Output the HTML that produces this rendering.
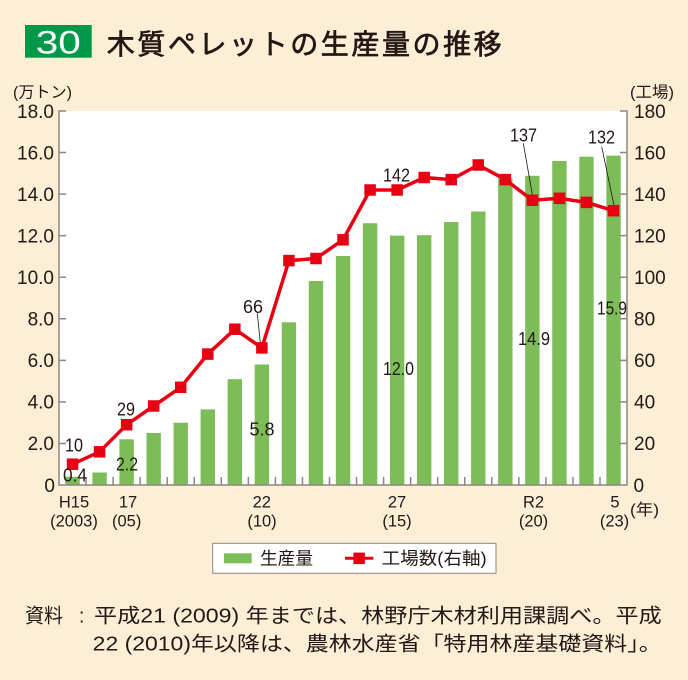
<!DOCTYPE html>
<html><head><meta charset="utf-8"><style>
html,body{margin:0;padding:0;background:#fdeed6;}
svg{display:block;}
.t{font-family:"Liberation Sans","Noto Sans CJK JP",sans-serif;fill:#231815;}
.j{font-family:"Liberation Sans","Noto Sans CJK JP",sans-serif;fill:#231815;}
</style></head><body>
<svg width="688" height="680" viewBox="0 0 688 680" xmlns="http://www.w3.org/2000/svg">
<rect x="0" y="0" width="688" height="680" fill="#fdeed6"/>
<!-- title -->
<rect x="25" y="25" width="66.7" height="32.7" fill="#00994a"/>
<text x="58.3" y="53.3" font-size="32" text-anchor="middle" fill="#fff" font-family="Liberation Sans, sans-serif" textLength="45" lengthAdjust="spacingAndGlyphs">30</text>
<text class="j" x="106.7" y="54" font-size="28" stroke="#231815" stroke-width="0.7" textLength="395" lengthAdjust="spacing">木質ペレットの生産量の推移</text>

<!-- unit labels -->
<text class="j" x="13" y="97.5" font-size="16" textLength="59" lengthAdjust="spacingAndGlyphs">(万トン)</text>
<text class="j" x="630" y="97.5" font-size="16" textLength="44" lengthAdjust="spacingAndGlyphs">(工場)</text>

<!-- plot area -->
<rect x="59" y="111" width="568" height="374" fill="#ffffff"/>

<!-- bars -->
<g fill="#7cbd58">
<rect x="65.33" y="476.7" width="14.4" height="8.3"/>
<rect x="92.38" y="472.5" width="14.4" height="12.5"/>
<rect x="119.43" y="439.3" width="14.4" height="45.7"/>
<rect x="146.48" y="433.0" width="14.4" height="52.0"/>
<rect x="173.53" y="422.7" width="14.4" height="62.3"/>
<rect x="200.58" y="409.4" width="14.4" height="75.6"/>
<rect x="227.63" y="379.2" width="14.4" height="105.8"/>
<rect x="254.68" y="364.5" width="14.4" height="120.5"/>
<rect x="281.73" y="322.3" width="14.4" height="162.7"/>
<rect x="308.78" y="281.0" width="14.4" height="204.0"/>
<rect x="335.83" y="256.0" width="14.4" height="229.0"/>
<rect x="362.88" y="223.2" width="14.4" height="261.8"/>
<rect x="389.93" y="235.6" width="14.4" height="249.4"/>
<rect x="416.98" y="235.2" width="14.4" height="249.8"/>
<rect x="444.03" y="222.0" width="14.4" height="263.0"/>
<rect x="471.08" y="211.5" width="14.4" height="273.5"/>
<rect x="498.13" y="178.3" width="14.4" height="306.7"/>
<rect x="525.18" y="175.8" width="14.4" height="309.2"/>
<rect x="552.23" y="161.0" width="14.4" height="324.0"/>
<rect x="579.28" y="156.7" width="14.4" height="328.3"/>
<rect x="606.33" y="155.6" width="14.4" height="329.4"/>
</g>

<!-- axes -->
<g stroke="#8c8680" stroke-width="1.5" fill="none">
<path d="M66,111 H59 V485 H627 V111 H620"/>
<path d="M59,443.44 h7 M59,401.89 h7 M59,360.33 h7 M59,318.78 h7 M59,277.22 h7 M59,235.67 h7 M59,194.11 h7 M59,152.56 h7"/>
<path d="M627,443.44 h-7 M627,401.89 h-7 M627,360.33 h-7 M627,318.78 h-7 M627,277.22 h-7 M627,235.67 h-7 M627,194.11 h-7 M627,152.56 h-7"/>
<path d="M86.05,485 v-8 M113.1,485 v-8 M140.15,485 v-8 M167.2,485 v-8 M194.25,485 v-8 M221.3,485 v-8 M248.35,485 v-8 M275.4,485 v-8 M302.45,485 v-8 M329.5,485 v-8 M356.55,485 v-8 M383.6,485 v-8 M410.65,485 v-8 M437.7,485 v-8 M464.75,485 v-8 M491.8,485 v-8 M518.85,485 v-8 M545.9,485 v-8 M572.95,485 v-8 M600,485 v-8"/>
</g>

<!-- left tick labels -->
<g class="t" font-size="19" text-anchor="end">
<text x="55" y="491.8">0</text>
<text x="54" y="450.2">2.0</text>
<text x="54" y="408.7">4.0</text>
<text x="54" y="367.1">6.0</text>
<text x="54" y="325.6">8.0</text>
<text x="54" y="284.0">10.0</text>
<text x="54" y="242.5">12.0</text>
<text x="54" y="200.9">14.0</text>
<text x="54" y="159.4">16.0</text>
<text x="54" y="117.8">18.0</text>
</g>
<!-- right tick labels -->
<g class="t" font-size="19">
<text x="633.5" y="491.8">0</text>
<text x="634" y="450.2">20</text>
<text x="634" y="408.7">40</text>
<text x="634" y="367.1">60</text>
<text x="634" y="325.6">80</text>
<text x="634" y="284.0">100</text>
<text x="634" y="242.5">120</text>
<text x="634" y="200.9">140</text>
<text x="634" y="159.4">160</text>
<text x="634" y="117.8">180</text>
</g>

<!-- x labels -->
<g class="t" font-size="16.5" text-anchor="middle">
<text x="74" y="507.5">H15</text>
<text x="74" y="526.5">(2003)</text>
<text x="128" y="507.5">17</text>
<text x="126.7" y="526.5">(05)</text>
<text x="261.8" y="507.5">22</text>
<text x="262" y="526.5">(10)</text>
<text x="397" y="507.5">27</text>
<text x="397" y="526.5">(15)</text>
<text x="533.5" y="507.5">R2</text>
<text x="533.5" y="526.5">(20)</text>
<text x="615" y="507.5">5</text>
<text x="614.5" y="526.5">(23)</text>
</g>
<text class="j" x="630" y="515" font-size="16" textLength="29" lengthAdjust="spacingAndGlyphs">(年)</text>

<!-- leader lines -->
<g stroke="#231815" stroke-width="0.8">
<line x1="257.3" y1="313.3" x2="260.7" y2="346.7"/>
<line x1="523.3" y1="143.3" x2="533.3" y2="200"/>
<line x1="601.7" y1="146.7" x2="615" y2="210"/>
</g>

<!-- line series -->
<polyline fill="none" stroke="#e60012" stroke-width="3.5" stroke-linejoin="round" points="72.53,464.2 99.58,451.8 126.63,424.7 153.68,406.0 180.73,387.3 207.78,354.1 234.83,329.2 261.88,347.9 288.93,260.6 315.98,258.5 343.03,239.8 370.08,190.0 397.13,190.0 424.18,177.5 451.23,179.6 478.28,165.0 505.33,179.6 532.38,200.3 559.43,198.3 586.48,202.4 613.53,210.7"/>
<g fill="#e60012">
<rect x="66.78" y="458.45" width="11.5" height="11.5"/>
<rect x="93.83" y="446.05" width="11.5" height="11.5"/>
<rect x="120.88" y="418.95" width="11.5" height="11.5"/>
<rect x="147.93" y="400.25" width="11.5" height="11.5"/>
<rect x="174.98" y="381.55" width="11.5" height="11.5"/>
<rect x="202.03" y="348.35" width="11.5" height="11.5"/>
<rect x="229.08" y="323.45" width="11.5" height="11.5"/>
<rect x="256.13" y="342.15" width="11.5" height="11.5"/>
<rect x="283.18" y="254.85" width="11.5" height="11.5"/>
<rect x="310.23" y="252.75" width="11.5" height="11.5"/>
<rect x="337.28" y="234.05" width="11.5" height="11.5"/>
<rect x="364.33" y="184.25" width="11.5" height="11.5"/>
<rect x="391.38" y="184.25" width="11.5" height="11.5"/>
<rect x="418.43" y="171.75" width="11.5" height="11.5"/>
<rect x="445.48" y="173.85" width="11.5" height="11.5"/>
<rect x="472.53" y="159.25" width="11.5" height="11.5"/>
<rect x="499.58" y="173.85" width="11.5" height="11.5"/>
<rect x="526.63" y="194.55" width="11.5" height="11.5"/>
<rect x="553.68" y="192.55" width="11.5" height="11.5"/>
<rect x="580.73" y="196.65" width="11.5" height="11.5"/>
<rect x="607.78" y="204.95" width="11.5" height="11.5"/>
</g>

<!-- data labels -->
<g class="t" font-size="18" text-anchor="middle" lengthAdjust="spacingAndGlyphs">
<text x="74" y="451.5" textLength="18" lengthAdjust="spacingAndGlyphs">10</text>
<text x="75" y="481.5" textLength="24" lengthAdjust="spacingAndGlyphs">0.4</text>
<text x="126" y="415.5" textLength="18" lengthAdjust="spacingAndGlyphs">29</text>
<text x="127" y="470.5" textLength="22" lengthAdjust="spacingAndGlyphs">2.2</text>
<text x="262" y="435.5" textLength="25" lengthAdjust="spacingAndGlyphs">5.8</text>
<text x="253" y="313" textLength="20" lengthAdjust="spacingAndGlyphs">66</text>
<text x="396.5" y="181.5" textLength="27" lengthAdjust="spacingAndGlyphs">142</text>
<text x="523.5" y="141.5" textLength="27" lengthAdjust="spacingAndGlyphs">137</text>
<text x="601.5" y="143.5" textLength="27" lengthAdjust="spacingAndGlyphs">132</text>
<text x="612" y="314.5" textLength="30" lengthAdjust="spacingAndGlyphs">15.9</text>
<text x="534" y="345" textLength="32" lengthAdjust="spacingAndGlyphs">14.9</text>
<text x="398.5" y="374.8" textLength="31" lengthAdjust="spacingAndGlyphs">12.0</text>
</g>

<!-- legend -->
<rect x="212.7" y="543.3" width="283.3" height="30" fill="#ffffff" stroke="#8c8680" stroke-width="1"/>
<rect x="224" y="553.3" width="27.7" height="10" fill="#7cbd58"/>
<text class="j" x="260" y="564.5" font-size="17.5" textLength="53" lengthAdjust="spacingAndGlyphs">生産量</text>
<line x1="345" y1="558.3" x2="373.3" y2="558.3" stroke="#e60012" stroke-width="3"/>
<rect x="353.4" y="552.6" width="11.5" height="11.5" fill="#e60012"/>
<text class="j" x="381.7" y="564.5" font-size="17.5" textLength="105" lengthAdjust="spacingAndGlyphs">工場数(右軸)</text>

<!-- footnote -->
<text class="j" x="25" y="622.6" font-size="20" textLength="38" lengthAdjust="spacingAndGlyphs">資料</text>
<text class="j" x="81.7" y="622.6" font-size="20" text-anchor="middle">:</text>
<text class="j" x="94" y="622.6" font-size="20" textLength="567.7" lengthAdjust="spacingAndGlyphs">平成21 (2009) 年までは、林野庁木材利用課調べ。平成</text>
<text class="j" x="92.7" y="650.6" font-size="20" textLength="569" lengthAdjust="spacingAndGlyphs">22 (2010)年以降は、農林水産省「特用林産基礎資料」。</text>
</svg>
</body></html>
